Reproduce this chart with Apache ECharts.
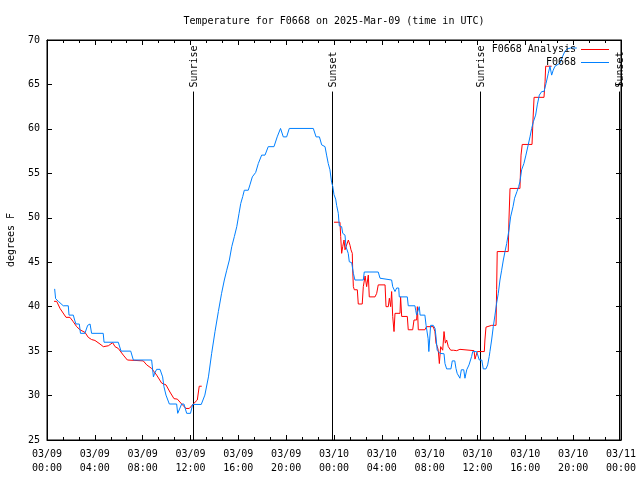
<!DOCTYPE html>
<html>
<head>
<meta charset="utf-8">
<script src="https://cdn.jsdelivr.net/npm/echarts@6/dist/echarts.min.js"></script>
<style>html,body{margin:0;padding:0;background:#fff}#c{width:640px;height:480px}</style>
</head>
<body>
<div id="c"></div>
<script>
const titleText = 'Temperature for F0668 on 2025-Mar-09 (time in UTC)';
const yName = 'degrees F';
const xTickLabels = ['03/09\n00:00','03/09\n04:00','03/09\n08:00','03/09\n12:00','03/09\n16:00','03/09\n20:00','03/10\n00:00','03/10\n04:00','03/10\n08:00','03/10\n12:00','03/10\n16:00','03/10\n20:00','03/11\n00:00'];
const seriesNames = ['F0668 Analysis', 'F0668'];

// hours since 03/09 00:00 UTC
const sunNames = ['Sunrise', 'Sunset', 'Sunrise', 'Sunset'];
const sunHours = [12.21, 23.81, 36.23, 47.83];

// observations (blue)
const obsHours = [0.64,0.72,0.95,1.36,1.78,1.84,2.2,2.31,2.42,2.7,2.8,3.17,3.4,3.6,3.73,4.7,4.77,5.96,6.19,7.0,7.22,8.75,8.9,9.0,9.17,9.45,9.67,9.78,9.95,10.23,10.84,10.93,11.12,11.26,11.45,11.68,12.0,12.18,12.9,13.2,13.5,13.77,14.05,14.33,14.6,14.83,15.03,15.25,15.45,15.67,15.87,16.06,16.2,16.37,16.5,16.83,16.97,17.17,17.45,17.67,17.95,18.23,18.5,18.98,19.25,19.53,19.76,20.04,20.26,22.27,22.5,22.78,22.97,23.25,23.38,23.52,23.66,23.8,23.9,24.0,24.14,24.22,24.36,24.44,24.64,24.73,24.92,25.0,25.19,25.28,25.48,25.62,25.75,26.45,26.53,27.7,27.85,28.82,28.91,29.1,29.24,29.41,29.46,30.13,30.21,30.77,30.83,30.91,31.05,31.13,31.2,31.6,31.7,31.8,31.87,31.93,32.0,32.08,32.3,32.45,32.53,32.63,32.85,33.2,33.28,33.42,33.78,33.89,34.1,34.2,34.3,34.53,34.65,34.85,34.95,35.1,35.29,35.51,35.6,35.93,36.15,36.36,36.48,36.71,36.85,36.98,37.04,37.18,37.32,37.46,37.6,37.74,37.88,38.02,38.16,38.3,38.44,38.63,38.77,38.97,39.1,39.3,39.44,39.55,39.69,39.88,40.05,40.24,40.39,40.53,40.67,40.86,41.0,41.17,41.37,41.56,41.73,41.92,42.06,42.2,42.33,42.48,42.62,42.9,43.1,43.3,43.5,43.8,44.3];
const obsTemps = [42.0,40.9,40.6,40.1,40.1,39.05,39.05,38.5,38.05,38.05,37.0,37.0,37.9,38.05,37.0,37.0,36.0,36.0,35.0,35.0,34.0,34.0,32.1,32.5,32.95,32.95,32.1,31.0,30.05,29.05,29.05,28.0,28.6,29.05,29.05,28.0,28.0,29.0,29.0,30.05,32.1,34.75,37.2,39.45,41.5,43.0,44.1,45.25,46.75,47.9,49.0,50.5,51.6,52.4,53.1,53.1,53.7,54.6,55.1,56.1,57.05,57.05,58.0,58.0,59.1,60.05,59.1,59.1,60.05,60.05,59.1,59.1,58.2,58.0,57.05,56.1,55.4,54.0,53.5,52.6,52.1,51.4,50.5,49.1,49.0,48.25,48.05,46.75,46.0,45.05,44.95,43.75,43.0,43.0,43.9,43.9,43.2,43.0,42.25,41.7,42.1,42.1,41.1,41.1,40.1,40.1,39.6,39.05,39.05,40.0,39.05,39.05,37.9,37.9,36.4,34.95,34.95,37.9,37.9,37.55,36.6,35.1,34.75,34.7,33.6,33.0,33.0,33.9,33.9,33.05,32.5,31.95,32.9,32.9,31.95,32.9,33.45,34.4,34.95,34.95,34.0,34.0,33.0,33.0,33.45,34.4,34.95,36.25,37.75,39.05,40.4,41.5,43.0,44.1,45.25,46.2,47.1,48.6,50.1,51.25,52.2,52.95,53.5,54.05,55.4,56.1,57.05,58.2,59.1,60.05,60.8,61.55,62.7,63.8,64.2,64.2,65.1,66.25,67.05,66.05,66.6,67.05,67.05,67.4,68.1,68.7,69.0,69.1,69.1];

// analysis (red); null marks the gap
const anaHours = [0.59,0.81,1.09,1.59,1.92,2.2,2.48,2.76,3.18,3.45,3.73,4.01,4.43,4.71,5.13,5.49,5.69,5.96,6.38,6.72,8.05,8.34,8.75,9.17,9.59,9.95,10.28,10.62,10.9,11.26,11.62,11.9,12.23,12.57,12.65,12.73,12.94,18.0,24.0,24.5,24.56,24.64,24.73,24.84,24.92,25.06,25.2,25.34,25.42,25.53,25.56,25.62,25.7,25.95,26.03,26.36,26.45,26.6,26.73,26.87,26.95,27.43,27.57,27.7,28.27,28.35,28.54,28.63,28.74,28.82,28.91,29.02,29.1,29.52,29.57,29.66,30.13,30.21,30.58,30.69,30.91,30.97,31.05,31.6,31.74,32.3,32.44,32.53,32.64,32.72,32.81,32.92,33.09,33.2,33.31,33.42,33.56,33.76,33.98,34.26,34.53,34.67,35.71,35.79,35.93,35.98,36.57,36.62,36.71,37.19,37.55,37.6,37.65,38.57,38.63,38.72,39.55,39.64,39.74,40.56,40.64,40.73,41.56,41.65,41.7,42.2];
const anaTemps = [40.6,40.6,39.8,38.8,38.8,38.3,37.75,37.4,37.1,36.55,36.3,36.2,35.8,35.5,35.6,35.95,35.5,35.3,34.55,34.0,33.9,33.45,33.05,32.3,31.4,31.2,30.4,29.65,29.6,29.05,28.55,28.55,29.05,29.5,29.7,31.05,31.05,null,49.5,49.5,47.9,46.0,46.75,47.5,46.4,46.4,47.5,46.9,46.4,46.0,44.3,42.25,41.9,41.9,40.3,40.3,42.25,43.45,42.25,43.55,41.1,41.1,41.5,42.45,42.45,40.0,40.0,40.95,40.0,41.7,38.9,37.2,39.25,39.25,41.1,38.9,38.9,37.4,37.4,38.5,38.5,40.0,37.4,37.4,37.75,37.75,37.2,35.9,35.5,35.1,33.6,35.5,35.1,37.2,35.9,36.25,35.5,35.1,35.1,35.05,35.2,35.05,35.05,34.1,34.1,34.95,34.95,36.25,37.7,37.9,37.9,41.95,46.2,46.2,49.75,53.3,53.3,57.05,58.25,58.25,61.0,63.55,63.55,65.3,67.05,67.05];

const sunLineTop = 64.2;
const FONT = '"DejaVu Sans Mono", "Liberation Mono", monospace';

const zip = (a, b) => a.map((v, i) => [v, b[i]]);

const chart = echarts.init(document.getElementById('c'), null, {renderer: 'canvas'});
const axisCommon = {
  axisLine: {show: true, onZero: false, lineStyle: {color: '#000', width: 1}},
  axisTick: {show: true, inside: true, length: 5, lineStyle: {color: '#000'}},
  splitLine: {show: false}
};
chart.setOption({
  animation: false,
  backgroundColor: '#fff',
  title: {
    text: titleText, left: 329, top: 11, textAlign: 'center',
    textStyle: {fontFamily: FONT, fontSize: 10, fontWeight: 'normal', color: '#000'}
  },
  legend: {
    data: seriesNames.map(n => ({name: n, icon: 'rect'})),
    orient: 'vertical', align: 'right', right: 31, top: 43,
    padding: 0, itemGap: 0, itemWidth: 28, itemHeight: 1,
    textStyle: {fontFamily: FONT, fontSize: 10, color: '#000', lineHeight: 13}
  },
  grid: {left: 47, right: 19, top: 40, bottom: 40, show: true, borderColor: '#000', borderWidth: 1, containLabel: false, outerBoundsMode: 'none'},
  xAxis: [
    Object.assign({}, axisCommon, {
      type: 'value', min: 0, max: 48, interval: 4, position: 'bottom',
      minorTick: {show: true, splitNumber: 3, length: 3, lineStyle: {color: '#000'}},
      axisLabel: {
        margin: 7, fontFamily: FONT, fontSize: 10, color: '#000', lineHeight: 14,
        formatter: v => xTickLabels[Math.round(v / 4)]
      }
    }),
    Object.assign({}, axisCommon, {
      type: 'value', min: 0, max: 48, interval: 4, position: 'top',
      minorTick: {show: true, splitNumber: 3, length: 3, lineStyle: {color: '#000'}},
      axisLabel: {show: false}
    })
  ],
  yAxis: [
    Object.assign({}, axisCommon, {
      type: 'value', min: 25, max: 70, interval: 5, position: 'left',
      name: yName, nameLocation: 'middle', nameRotate: 90, nameGap: 31,
      nameTextStyle: {fontFamily: FONT, fontSize: 10, color: '#000'},
      axisLabel: {margin: 7, fontFamily: FONT, fontSize: 10, color: '#000'}
    }),
    Object.assign({}, axisCommon, {
      type: 'value', min: 25, max: 70, interval: 5, position: 'right',
      axisLabel: {show: false}
    })
  ],
  series: [
    {
      type: 'custom', name: 'sun', silent: true, z: 1,
      data: sunHours.map((h, i) => [h, sunLineTop]),
      renderItem: (params, api) => {
        const t = api.value(0);
        const top = api.coord([t, api.value(1)]);
        const bot = api.coord([t, 25]);
        const x = Math.round(top[0]) + 0.5;
        return {
          type: 'group',
          children: [
            {type: 'line', shape: {x1: x, y1: top[1], x2: x, y2: bot[1]}, style: {stroke: '#000', lineWidth: 1}},
            {type: 'text', x: x + 1, y: top[1] - 4, rotation: Math.PI / 2,
             style: {text: sunNames[params.dataIndex], textAlign: 'left', textVerticalAlign: 'middle', font: '10px ' + FONT, fill: '#000'}}
          ]
        };
      }
    },
    {
      type: 'line', name: seriesNames[0], data: zip(anaHours, anaTemps),
      symbol: 'none', showSymbol: false, connectNulls: false, z: 2,
      lineStyle: {color: '#ff0000', width: 1}, itemStyle: {color: '#ff0000'}
    },
    {
      type: 'line', name: seriesNames[1], data: zip(obsHours, obsTemps),
      symbol: 'none', showSymbol: false, z: 3,
      lineStyle: {color: '#0080ff', width: 1}, itemStyle: {color: '#0080ff'}
    }
  ]
});
</script>
</body>
</html>
